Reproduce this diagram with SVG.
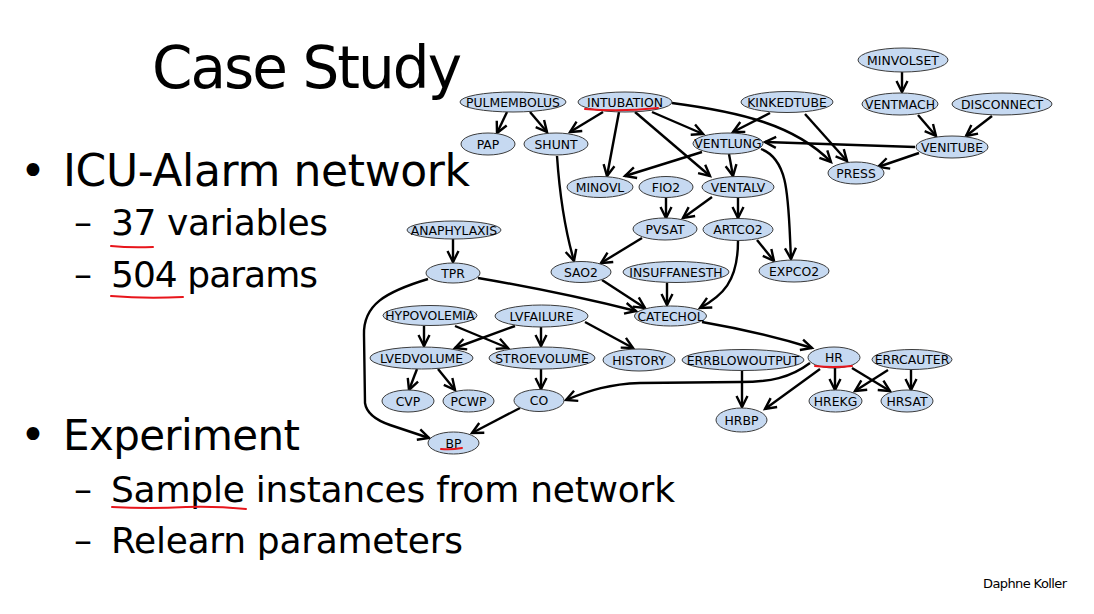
<svg xmlns="http://www.w3.org/2000/svg" width="1094" height="614" viewBox="0 0 1094 614">
  <style>
    .slide { font-family: "Comic Sans MS", "DejaVu Sans", "Liberation Sans", sans-serif; fill: #000; }
    .node ellipse { fill: #c6d9f1; stroke: #3c3c3c; stroke-width: 1; }
    .node text { font-family: "Comic Sans MS", "DejaVu Sans", "Liberation Sans", sans-serif; font-size: 12.4px; fill: #000; text-anchor: middle; dominant-baseline: central; }
    .edges path { fill: none; stroke: #000; stroke-width: 2.4; marker-end: url(#arrow); }
    .ink { fill: none; stroke: #e8151b; stroke-width: 2; stroke-linecap: round; }
  </style>
  <defs>
    <marker id="arrow" markerUnits="userSpaceOnUse" markerWidth="16" markerHeight="16" viewBox="0 0 16 16" refX="13" refY="8" orient="auto">
      <path d="M2,2.5 L13,8 L2,13.5" fill="none" stroke="#000" stroke-width="2.4" stroke-linejoin="miter"/>
    </marker>
  </defs>
  <rect width="1094" height="614" fill="#fff"/>

  <!-- slide text -->
  <g id="slide-text" class="slide">
    <text x="152" y="88" font-size="58" textLength="310">Case Study</text>
    <text x="20" y="186" font-size="44">•</text>
    <text x="63" y="186" font-size="44" textLength="407">ICU-Alarm network</text>
    <text x="74" y="235" font-size="36">–</text>
    <text x="111" y="235" font-size="36" textLength="217">37 variables</text>
    <text x="74" y="287" font-size="36">–</text>
    <text x="111" y="287" font-size="36" textLength="207">504 params</text>
    <text x="20" y="450" font-size="44">•</text>
    <text x="63" y="450" font-size="42" textLength="237">Experiment</text>
    <text x="74" y="502" font-size="36">–</text>
    <text x="111" y="502" font-size="36" textLength="564">Sample instances from network</text>
    <text x="74" y="553" font-size="36">–</text>
    <text x="111" y="553" font-size="36" textLength="352">Relearn parameters</text>
    <text x="983" y="588" font-size="13" textLength="84">Daphne Koller</text>
  </g>

  <!-- connectors -->
  <g id="edges" class="edges">
    <path d="M507,112 L497,133"/>
    <path d="M530,112 L547,132"/>
    <path d="M603,112 L570,132"/>
    <path d="M619,112 L607,176"/>
    <path d="M652,112 L703,134"/>
    <path d="M635,112 L710,176"/>
    <path d="M672,103 C740,112 795,125 831,162"/>
    <path d="M770,113 L733,132"/>
    <path d="M805,114 L847,161"/>
    <path d="M902,72 L902,92"/>
    <path d="M918,115 L936,136"/>
    <path d="M992,116 L966,136"/>
    <path d="M915,147 L765,142"/>
    <path d="M919,153 L878,167"/>
    <path d="M702,152 L625,176"/>
    <path d="M729,154 L733,176"/>
    <path d="M761,149 C790,160 788,200 791,259"/>
    <path d="M666,198 L666,218"/>
    <path d="M712,197 L683,218"/>
    <path d="M738,198 L738,218"/>
    <path d="M757,240 L774,261"/>
    <path d="M738,241 C738,282 722,296 700,308"/>
    <path d="M557,156 C560,200 565,230 574,261"/>
    <path d="M642,238 L601,263"/>
    <path d="M602,280 L645,308"/>
    <path d="M667,283 L667,305"/>
    <path d="M478,278 Q560,292 636,311"/>
    <path d="M453,239 L453,262"/>
    <path d="M428,279 C385,292 363,305 364,335 L365,403 Q367,417 390,425 L429,438"/>
    <path d="M702,322 Q760,332 812,348"/>
    <path d="M424,326 L424,346"/>
    <path d="M455,326 L508,348"/>
    <path d="M515,326 L455,348"/>
    <path d="M541,327 L541,346"/>
    <path d="M585,322 L633,348"/>
    <path d="M417,369 L409,390"/>
    <path d="M438,369 L455,390"/>
    <path d="M541,369 L541,389"/>
    <path d="M520,408 L472,433"/>
    <path d="M810,363 C790,378 770,382 740,382 L640,383 C610,384 590,390 566,400"/>
    <path d="M742,371 L742,407"/>
    <path d="M820,369 L765,409"/>
    <path d="M835,368 L835,390"/>
    <path d="M852,368 L890,391"/>
    <path d="M888,370 L855,391"/>
    <path d="M911,370 L911,390"/>
  </g>

  <!-- nodes -->
  <g id="MINVOLSET" class="node"><ellipse cx="903" cy="60" rx="45" ry="12"/><text x="903" y="60">MINVOLSET</text></g>
  <g id="VENTMACH" class="node"><ellipse cx="900" cy="104" rx="38" ry="11"/><text x="900" y="104">VENTMACH</text></g>
  <g id="DISCONNECT" class="node"><ellipse cx="1002" cy="104" rx="50" ry="11"/><text x="1002" y="104">DISCONNECT</text></g>
  <g id="KINKEDTUBE" class="node"><ellipse cx="787" cy="102" rx="46" ry="10.5"/><text x="787" y="102">KINKEDTUBE</text></g>
  <g id="VENITUBE" class="node"><ellipse cx="952" cy="147" rx="36" ry="11"/><text x="952" y="147">VENITUBE</text></g>
  <g id="PRESS" class="node"><ellipse cx="856" cy="173" rx="28" ry="11"/><text x="856" y="173">PRESS</text></g>
  <g id="VENTLUNG" class="node"><ellipse cx="728" cy="143.5" rx="35" ry="10.5"/><text x="728" y="143.5">VENTLUNG</text></g>
  <g id="PULMEMBOLUS" class="node"><ellipse cx="513" cy="102" rx="53" ry="10"/><text x="513" y="102">PULMEMBOLUS</text></g>
  <g id="INTUBATION" class="node"><ellipse cx="625" cy="102" rx="47" ry="10"/><text x="625" y="102">INTUBATION</text></g>
  <g id="PAP" class="node"><ellipse cx="488" cy="144" rx="27" ry="11"/><text x="488" y="144">PAP</text></g>
  <g id="SHUNT" class="node"><ellipse cx="556" cy="144" rx="32" ry="11"/><text x="556" y="144">SHUNT</text></g>
  <g id="MINOVL" class="node"><ellipse cx="600" cy="187" rx="33" ry="10.5"/><text x="600" y="187">MINOVL</text></g>
  <g id="FIO2" class="node"><ellipse cx="666" cy="187" rx="27" ry="10.5"/><text x="666" y="187">FIO2</text></g>
  <g id="VENTALV" class="node"><ellipse cx="738" cy="187" rx="36" ry="10.5"/><text x="738" y="187">VENTALV</text></g>
  <g id="ANAPHYLAXIS" class="node"><ellipse cx="454" cy="230" rx="47" ry="9"/><text x="454" y="230">ANAPHYLAXIS</text></g>
  <g id="PVSAT" class="node"><ellipse cx="665" cy="229" rx="32" ry="11"/><text x="665" y="229">PVSAT</text></g>
  <g id="ARTCO2" class="node"><ellipse cx="738" cy="229.5" rx="35" ry="11"/><text x="738" y="229.5">ARTCO2</text></g>
  <g id="TPR" class="node"><ellipse cx="453" cy="273" rx="27" ry="10"/><text x="453" y="273">TPR</text></g>
  <g id="SAO2" class="node"><ellipse cx="581" cy="272" rx="30" ry="10.5"/><text x="581" y="272">SAO2</text></g>
  <g id="INSUFFANESTH" class="node"><ellipse cx="676" cy="272" rx="53" ry="10.5"/><text x="676" y="272">INSUFFANESTH</text></g>
  <g id="EXPCO2" class="node"><ellipse cx="794" cy="271" rx="35" ry="11"/><text x="794" y="271">EXPCO2</text></g>
  <g id="CATECHOL" class="node"><ellipse cx="670.5" cy="316" rx="36" ry="10"/><text x="670.5" y="316">CATECHOL</text></g>
  <g id="HYPOVOLEMIA" class="node"><ellipse cx="430" cy="315.5" rx="47" ry="10"/><text x="430" y="315.5">HYPOVOLEMIA</text></g>
  <g id="LVFAILURE" class="node"><ellipse cx="541.5" cy="316" rx="46.5" ry="11"/><text x="541.5" y="316">LVFAILURE</text></g>
  <g id="LVEDVOLUME" class="node"><ellipse cx="421.5" cy="358" rx="51.5" ry="11"/><text x="421.5" y="358">LVEDVOLUME</text></g>
  <g id="STROEVOLUME" class="node"><ellipse cx="542" cy="358" rx="53" ry="11"/><text x="542" y="358">STROEVOLUME</text></g>
  <g id="HISTORY" class="node"><ellipse cx="639" cy="360" rx="36" ry="11"/><text x="639" y="360">HISTORY</text></g>
  <g id="ERRBLOWOUTPUT" class="node"><ellipse cx="743" cy="360" rx="61" ry="10.5"/><text x="743" y="360">ERRBLOWOUTPUT</text></g>
  <g id="HR" class="node"><ellipse cx="834" cy="357.5" rx="26" ry="10.5"/><text x="834" y="357.5">HR</text></g>
  <g id="ERRCAUTER" class="node"><ellipse cx="912" cy="359.5" rx="40" ry="10"/><text x="912" y="359.5">ERRCAUTER</text></g>
  <g id="CVP" class="node"><ellipse cx="408" cy="401" rx="26" ry="11"/><text x="408" y="401">CVP</text></g>
  <g id="PCWP" class="node"><ellipse cx="468.5" cy="401" rx="25.5" ry="11"/><text x="468.5" y="401">PCWP</text></g>
  <g id="CO" class="node"><ellipse cx="539" cy="400.5" rx="25" ry="11"/><text x="539" y="400.5">CO</text></g>
  <g id="HREKG" class="node"><ellipse cx="835.5" cy="401" rx="26.5" ry="11"/><text x="835.5" y="401">HREKG</text></g>
  <g id="HRSAT" class="node"><ellipse cx="907" cy="401" rx="26" ry="11"/><text x="907" y="401">HRSAT</text></g>
  <g id="HRBP" class="node"><ellipse cx="741.5" cy="420" rx="25.5" ry="12"/><text x="741.5" y="420">HRBP</text></g>
  <g id="BP" class="node"><ellipse cx="453.5" cy="443" rx="25.5" ry="11"/><text x="453.5" y="443">BP</text></g>

  <!-- red pen underlines -->
  <g id="underlines">
    <path class="ink" d="M111,246 Q130,248 153,247"/>
    <path class="ink" d="M111,296 Q145,299 183,297"/>
    <path class="ink" d="M112,507 Q150,509 186,507 Q215,506 246,509"/>
    <path class="ink" d="M585,109 Q620,112 658,108"/>
    <path class="ink" d="M815,366 Q833,368 852,366"/>
    <path class="ink" d="M441,449 Q451,450 462,448"/>
  </g>
</svg>
